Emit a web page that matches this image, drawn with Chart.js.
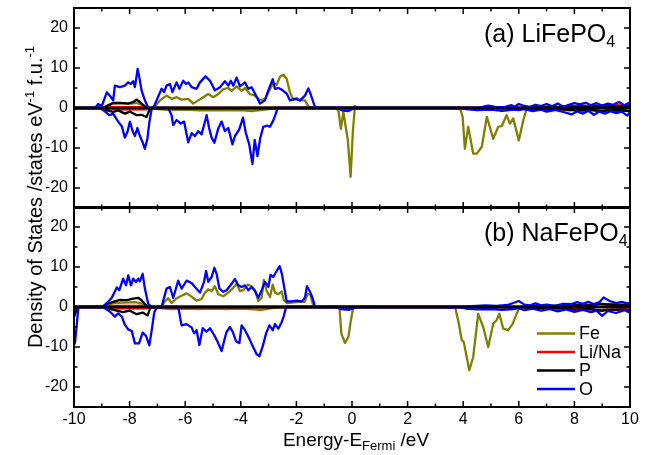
<!DOCTYPE html>
<html><head><meta charset="utf-8">
<script src="https://cdn.jsdelivr.net/npm/chart.js@4"></script>
<style>
html,body{margin:0;padding:0;background:#fff;}
#wrap{position:relative;width:654px;height:455px;overflow:hidden;}
canvas{position:absolute;left:0;top:0;}
</style></head><body>
<div id="wrap">
<canvas id="c1" width="654" height="455" style="width:654px;height:455px"></canvas>
<canvas id="c2" width="654" height="455" style="width:654px;height:455px"></canvas>
</div>
<script>
// ---- tick labels / names ----
const xTicks = [-10,-8,-6,-4,-2,0,2,4,6,8,10];
const yTicks = [-20,-10,0,10,20];
const seriesNames = ['Fe','Li/Na','P','O'];
const seriesColors = ['#808000','#ff0000','#000000','#0000ff'];
const panelA = ['(a) LiFePO','4'];
const panelB = ['(b) NaFePO','4'];

// ---- (a) LiFePO4 : [energy, DOS] ----
const liOUp = [[-10,0],[-9.24,0],[-9.13,1],[-9.0,0.5],[-8.82,3.9],[-8.7,3],[-8.59,1.9],[-8.53,5.6],[-8.35,5.2],[-8.17,5.6],[-8.05,6.4],[-7.96,6],[-7.87,6.7],[-7.81,5.2],[-7.71,9.8],[-7.63,6.9],[-7.57,4.4],[-7.45,1.9],[-7.33,0.1],[-7.15,0],[-7.03,1.9],[-6.85,4.8],[-6.76,4],[-6.67,5.6],[-6.55,6],[-6.46,4],[-6.31,6.4],[-6.21,4.8],[-6.07,6.8],[-5.97,6],[-5.89,6.4],[-5.77,5.2],[-5.59,4.8],[-5.47,6.4],[-5.27,7.9],[-5.11,6.8],[-4.93,4.4],[-4.75,5.2],[-4.57,6.7],[-4.45,5.6],[-4.36,6.8],[-4.27,5.6],[-4.15,7.6],[-4.03,5.4],[-3.85,6.4],[-3.73,4.8],[-3.61,5.2],[-3.49,3.6],[-3.31,1.1],[-3.13,1.9],[-3.01,4.4],[-2.85,7.2],[-2.77,4.8],[-2.65,5],[-2.53,4.6],[-2.35,3.6],[-2.23,1.9],[-2.05,2.3],[-1.87,1.9],[-1.69,3.1],[-1.57,4.9],[-1.49,3.5],[-1.33,0.2],[-1.2,0],[4.5,0],[4.9,0.6],[5.2,0.2],[5.5,0.3],[5.74,0.7],[5.85,0.3],[6.0,1.0],[6.2,0.5],[6.4,0.3],[6.6,0.8],[6.8,0.5],[7.0,1.0],[7.2,0.4],[7.4,1.1],[7.6,0.3],[7.8,0.8],[8.0,1.2],[8.2,0.9],[8.4,1.3],[8.6,0.7],[8.8,1.2],[9.0,0.6],[9.2,1.1],[9.4,0.8],[9.6,1.5],[9.8,0.7],[10,1.4]];
const liODn = [[-10,-0.6],[-9.95,0],[-9.06,0],[-8.88,-0.9],[-8.73,-1.8],[-8.59,-1.4],[-8.41,-3.4],[-8.28,-4.6],[-8.17,-7.4],[-8.07,-5.8],[-7.99,-3.4],[-7.89,-5.8],[-7.81,-7],[-7.72,-5],[-7.63,-7],[-7.53,-8.6],[-7.45,-10.2],[-7.36,-7.7],[-7.29,-3.6],[-7.2,0],[-6.61,0],[-6.49,-1.8],[-6.43,-4.3],[-6.31,-3],[-6.16,-3.9],[-6.04,-3.4],[-5.89,-8.6],[-5.77,-6.3],[-5.65,-7],[-5.53,-5.8],[-5.41,-6.6],[-5.23,-1.8],[-5.14,-5],[-5.05,-7.4],[-4.95,-8.7],[-4.81,-5.1],[-4.69,-3.4],[-4.57,-5.8],[-4.45,-5],[-4.3,-9.1],[-4.21,-7],[-4.06,-5.4],[-3.92,-2.4],[-3.82,-6.2],[-3.7,-9],[-3.58,-14],[-3.5,-8],[-3.4,-12],[-3.3,-7.5],[-3.19,-4.7],[-3.05,-4.4],[-2.95,-4.7],[-2.83,-3.1],[-2.67,0],[-0.5,0],[-0.35,-0.6],[-0.15,-0.8],[0,-0.3],[0.1,0],[3.9,0],[4.1,-0.3],[4.5,-0.5],[5.0,-0.4],[5.4,-0.7],[5.8,-0.4],[6.0,-0.5],[6.2,-0.3],[6.5,-0.8],[6.8,-0.4],[7.0,-0.9],[7.3,-0.5],[7.6,-1.0],[7.9,-1.6],[8.1,-0.8],[8.3,-1.4],[8.5,-0.7],[8.7,-1.7],[8.9,-0.9],[9.1,-1.4],[9.3,-0.8],[9.5,-1.3],[9.7,-0.9],[9.9,-1.9],[10,-1.0]];
const liFeUp = [[-10,0],[-8.9,0],[-8.6,1.1],[-8.2,1.2],[-7.9,1.1],[-7.75,1.3],[-7.5,0.5],[-7.35,0],[-7.15,0],[-6.91,1.9],[-6.67,3.1],[-6.49,2.3],[-6.31,2.7],[-6.13,2.1],[-5.89,2.3],[-5.71,1.1],[-5.53,1.9],[-5.35,2.7],[-5.17,3.5],[-4.99,2.7],[-4.81,3.5],[-4.63,4.7],[-4.45,5],[-4.33,4.3],[-4.15,5.4],[-3.97,4.3],[-3.85,5],[-3.67,3.5],[-3.49,3.1],[-3.31,1.9],[-3.13,2.3],[-2.95,4.7],[-2.83,6.2],[-2.71,5.8],[-2.59,7.8],[-2.47,8.3],[-2.35,7.3],[-2.23,3.9],[-2.11,2],[-1.99,2.5],[-1.87,1.9],[-1.69,1.9],[-1.57,0.4],[-1.45,0],[0.0,0],[0.1,0.5],[0.2,0],[10,0]];
const liFeDn = [[-10,0],[-8.8,0],[-8.5,-0.3],[-7.5,-0.3],[-7.3,0],[-7.0,-0.3],[-6.5,-0.5],[-6.0,-0.4],[-5.5,-0.6],[-5.0,-0.5],[-4.5,-0.6],[-4.0,-0.5],[-3.6,-0.8],[-3.3,-0.5],[-3.0,-0.3],[-2.6,0],[-0.61,0],[-0.49,-0.6],[-0.4,-5.2],[-0.31,-1],[-0.15,-8],[-0.05,-17.2],[0.03,-6],[0.1,0],[3.88,0],[3.98,-2.2],[4.06,-10.2],[4.18,-4.7],[4.36,-11.4],[4.49,-11.4],[4.67,-9.7],[4.85,-2.2],[5.08,-7.7],[5.26,-4.7],[5.39,-4.5],[5.56,-1.8],[5.68,-3.9],[5.8,-2.6],[6.0,-8.1],[6.16,-3.1],[6.28,-0.2],[6.4,0],[10,0]];
const liLiUp = [[-10,0],[-8.9,0],[-8.7,0.2],[-7.4,0.2],[-7.2,0],[6.5,0],[7,0.2],[7.5,0.3],[7.8,0.5],[8.0,0.3],[8.3,0.6],[8.6,0.4],[8.9,0.7],[9.2,0.5],[9.5,0.8],[9.8,0.5],[10,0.7]];
const liLiDn = [[-10,0],[-8.9,0],[-8.7,-0.35],[-7.4,-0.35],[-7.2,0],[6.5,0],[7,-0.2],[7.5,-0.4],[7.8,-0.6],[8.0,-0.4],[8.3,-0.8],[8.6,-0.5],[8.9,-0.9],[9.2,-0.6],[9.5,-0.9],[9.8,-0.5],[10,-0.8]];
const liPUp = [[-10,0],[-9.0,0],[-8.85,0.4],[-8.6,1.25],[-8.35,1.3],[-8.05,1.1],[-7.87,1.5],[-7.75,2.1],[-7.63,1.5],[-7.45,0.4],[-7.33,0],[6,0],[6.5,0.2],[7,0.3],[7.5,0.2],[8,0.4],[8.5,0.3],[9,0.5],[9.5,0.3],[10,0.5]];
const liPDn = [[-10,0],[-8.95,0],[-8.82,-0.6],[-8.59,-1],[-8.41,-0.6],[-8.17,-1.4],[-7.99,-0.9],[-7.75,-1.8],[-7.57,-1.7],[-7.39,-2.25],[-7.27,-0.2],[-7.2,0],[6,0],[6.5,-0.2],[7,-0.4],[7.5,-0.3],[8,-0.6],[8.5,-0.4],[9,-0.7],[9.5,-0.5],[10,-0.8]];

// ---- (b) NaFePO4 : [energy, DOS] ----
const naOUp = [[-10,0],[-9.78,0],[-8.95,0],[-8.82,1],[-8.64,2.3],[-8.46,4.9],[-8.37,4.2],[-8.23,7.1],[-8.13,5.4],[-8.05,7.9],[-7.95,5.4],[-7.87,7.1],[-7.77,6.2],[-7.69,7.1],[-7.63,6.4],[-7.53,8.3],[-7.45,4.6],[-7.33,0.8],[-7.2,0],[-6.85,0],[-6.67,4.6],[-6.55,5],[-6.43,2.3],[-6.25,6.6],[-6.13,4.6],[-5.95,6.6],[-5.77,6],[-5.65,5],[-5.47,3.6],[-5.32,6.3],[-5.25,9],[-5.17,6.3],[-5.05,7.5],[-4.95,9.8],[-4.87,8.3],[-4.77,4.6],[-4.63,3.8],[-4.51,4.2],[-4.33,5.8],[-4.21,7],[-4.09,5.4],[-3.97,5],[-3.85,5.4],[-3.73,4.2],[-3.61,5],[-3.49,4],[-3.37,2.3],[-3.25,4.2],[-3.13,6.3],[-3.01,5],[-2.93,8],[-2.83,7.5],[-2.73,8.8],[-2.6,10.2],[-2.52,8.2],[-2.45,5.4],[-2.35,1.4],[-2.17,1.4],[-1.99,1.6],[-1.81,1.4],[-1.69,2.4],[-1.62,5.2],[-1.51,3.8],[-1.41,2.1],[-1.33,0],[3.9,0],[4.3,0.2],[4.8,0.4],[5.2,0.3],[5.6,0.5],[6.0,1.5],[6.2,0.6],[6.4,0.4],[6.6,0.9],[6.8,0.4],[7.0,0.6],[7.3,0.3],[7.6,0.8],[7.9,0.7],[8.1,1.2],[8.3,0.8],[8.5,1.3],[8.7,0.7],[8.9,1.2],[9.05,2.4],[9.3,1.4],[9.5,1.0],[9.7,1.3],[9.9,0.9],[10,1.0]];
const naODn = [[-10,-9.5],[-9.96,-8.75],[-9.84,0],[-8.95,0],[-8.7,-1.2],[-8.53,-2.4],[-8.41,-1.6],[-8.28,-2.4],[-8.17,-4.4],[-8.05,-5.6],[-7.92,-6],[-7.81,-9.1],[-7.66,-9.1],[-7.53,-6.4],[-7.41,-7.2],[-7.29,-9.6],[-7.2,-5.6],[-7.11,-1.2],[-7.0,0],[-6.25,0],[-6.13,-4.6],[-5.95,-4.3],[-5.77,-5.1],[-5.68,-6.6],[-5.59,-5.8],[-5.49,-9.5],[-5.37,-5.3],[-5.23,-6.2],[-5.11,-5.3],[-4.96,-7],[-4.84,-8.6],[-4.69,-11],[-4.59,-8.2],[-4.51,-6.2],[-4.39,-5],[-4.29,-6.2],[-4.17,-8.6],[-4.05,-9],[-3.97,-4.6],[-3.85,-5.8],[-3.73,-7.4],[-3.57,-9.8],[-3.43,-11.8],[-3.33,-12.3],[-3.21,-9.8],[-3.09,-6.6],[-2.97,-4.6],[-2.85,-5.8],[-2.77,-4.3],[-2.65,-5.4],[-2.53,-3.8],[-2.45,-2.2],[-2.37,0],[-0.5,0],[-0.4,-0.5],[-0.1,-0.7],[0.05,-0.3],[0.1,0],[3.9,0],[4.1,-0.4],[4.5,-0.6],[5.0,-0.5],[5.4,-0.7],[5.8,-0.5],[6.0,-0.3],[6.2,-0.8],[6.5,-0.4],[6.8,-0.9],[7.1,-0.5],[7.4,-1.1],[7.7,-0.6],[8.0,-1.2],[8.3,-0.7],[8.6,-1.3],[8.8,-0.9],[9.0,-2.2],[9.2,-1.0],[9.5,-1.5],[9.8,-0.8],[10,-1.4]];
const naFeUp = [[-10,0],[-8.9,0],[-8.6,1],[-8.2,1.1],[-7.8,1.2],[-7.5,0.8],[-7.35,0],[-6.85,0],[-6.73,1.4],[-6.61,2.2],[-6.49,1],[-6.31,2.2],[-6.13,2.8],[-5.95,3.4],[-5.77,2.6],[-5.59,1.6],[-5.41,2],[-5.29,3.6],[-5.17,4.4],[-5.05,4],[-4.93,5.2],[-4.81,3.2],[-4.63,2.7],[-4.45,3.6],[-4.27,4.8],[-4.15,5.8],[-4.03,4],[-3.91,4.2],[-3.75,5.6],[-3.61,5.2],[-3.49,4.2],[-3.37,1.5],[-3.25,2.3],[-3.17,6.8],[-3.07,4],[-2.95,2.5],[-2.85,5.6],[-2.77,3.6],[-2.65,3.2],[-2.53,3.9],[-2.45,1.7],[-2.35,1],[-2.0,1.2],[-1.7,1.3],[-1.6,3.3],[-1.5,3.0],[-1.38,0],[10,0]];
const naFeDn = [[-10,-2],[-9.95,0],[-8.8,0],[-8.5,-0.3],[-7.5,-0.3],[-7.3,0],[-6.9,-0.3],[-6.5,-0.5],[-6.0,-0.4],[-5.5,-0.5],[-5.0,-0.4],[-4.5,-0.5],[-4.0,-0.4],[-3.5,-0.6],[-3.3,-0.8],[-3.0,-0.4],[-2.6,0],[-0.55,0],[-0.45,-0.4],[-0.38,-6.7],[-0.25,-9],[-0.13,-7.5],[-0.04,-3.3],[0.05,0],[3.71,0],[3.83,-3.75],[3.95,-8.3],[4.02,-8.75],[4.22,-15.8],[4.36,-12.5],[4.54,-1.7],[4.72,-5],[4.9,-10],[5.08,-4.2],[5.2,-3.3],[5.3,-1.7],[5.44,-5.4],[5.62,-5.8],[5.78,-4.2],[5.92,-1.7],[6.04,0],[10,0]];
const naLiUp = [[-10,0.3],[-9.8,0],[-8.9,0],[-8.7,0.25],[-7.4,0.25],[-7.2,0],[6.5,0],[7,0.2],[7.5,0.3],[7.8,0.5],[8.0,0.3],[8.3,0.6],[8.6,0.5],[8.9,0.8],[9.2,0.5],[9.5,0.7],[9.8,0.4],[10,0.6]];
const naLiDn = [[-10,-0.3],[-9.8,0],[-8.9,0],[-8.7,-0.35],[-7.4,-0.35],[-7.2,0],[6.5,0],[7,-0.2],[7.5,-0.4],[7.8,-0.5],[8.0,-0.4],[8.3,-0.7],[8.6,-0.5],[8.9,-1.0],[9.2,-0.6],[9.5,-0.8],[9.8,-0.5],[10,-0.7]];
const naPUp = [[-10,0],[-9.0,0],[-8.82,0.8],[-8.59,1.3],[-8.35,1.8],[-8.1,1.7],[-7.87,2.1],[-7.69,2.3],[-7.57,1.7],[-7.39,0.3],[-7.3,0],[6,0],[6.5,0.3],[7,0.2],[7.5,0.4],[8,0.5],[8.5,0.4],[9,0.8],[9.5,0.5],[10,0.6]];
const naPDn = [[-10,-2.5],[-9.9,-0.5],[-9.8,0],[-8.95,0],[-8.7,-0.5],[-8.47,-0.9],[-8.23,-1.3],[-8.0,-0.9],[-7.75,-1.8],[-7.53,-1.4],[-7.35,-2.1],[-7.25,0],[6,0],[6.5,-0.3],[7,-0.4],[7.5,-0.3],[8,-0.7],[8.5,-0.5],[9,-0.9],[9.5,-0.6],[10,-0.8]];

const FONT = '"Liberation Sans", Arial, Helvetica, sans-serif';

function pts(a){ return a.map(([x,y]) => ({x, y})); }
function ds(arr, colorIdx){
  return {data: pts(arr), borderColor: seriesColors[colorIdx], backgroundColor: seriesColors[colorIdx],
    borderWidth: 2.3, pointRadius: 0, fill: false, tension: 0, borderJoinStyle: 'round'};
}

function richDraw(ctx, parts, x, y, measureOnly){
  let cx = x;
  for (const p of parts){
    ctx.font = p.size + 'px ' + FONT;
    if (!measureOnly) ctx.fillText(p.t, cx, y + (p.dy || 0));
    cx += ctx.measureText(p.t).width;
  }
  return cx - x;
}

function line(ctx, x1, y1, x2, y2){ ctx.beginPath(); ctx.moveTo(x1,y1); ctx.lineTo(x2,y2); ctx.stroke(); }

const framePlugin = {
  id: 'frame',
  afterDatasetsDraw(chart, args, opts){
    const {ctx, chartArea: a, scales: {x, y}} = chart;
    ctx.save();
    ctx.strokeStyle = '#000';
    // zero line
    const y0 = y.getPixelForValue(0);
    ctx.lineWidth = 2.5;
    line(ctx, a.left, y0, a.right, y0);
    // ticks inward
    ctx.lineWidth = 1.5;
    for (let i = 0; i < xTicks.length; i++){
      const px = x.getPixelForValue(xTicks[i]);
      line(ctx, px, a.bottom, px, a.bottom - 6);
      line(ctx, px, a.top, px, a.top + 6);
      if (i < xTicks.length - 1){
        const pm = x.getPixelForValue((xTicks[i] + xTicks[i+1]) / 2);
        line(ctx, pm, a.bottom, pm, a.bottom - 3.5);
        line(ctx, pm, a.top, pm, a.top + 3.5);
      }
    }
    for (let i = 0; i < yTicks.length; i++){
      const py = y.getPixelForValue(yTicks[i]);
      line(ctx, a.left, py, a.left + 6, py);
      line(ctx, a.right, py, a.right - 6, py);
      if (i < yTicks.length - 1){
        const pm = y.getPixelForValue((yTicks[i] + yTicks[i+1]) / 2);
        line(ctx, a.left, pm, a.left + 3.5, pm);
        line(ctx, a.right, pm, a.right - 3.5, pm);
      }
    }
    ctx.lineWidth = 2;
    ctx.strokeRect(a.left, a.top, a.right - a.left, a.bottom - a.top);
    // panel label
    ctx.fillStyle = '#000';
    ctx.textBaseline = 'alphabetic';
    ctx.textAlign = 'left';
    richDraw(ctx, [{t: opts.label[0], size: 25}, {t: opts.label[1], size: 16, dy: 5}], a.left + 410, a.top + 34);
    ctx.restore();
  }
};

const extrasPlugin = {
  id: 'extras',
  afterDraw(chart){
    const {ctx, chartArea: a, scales: {x}} = chart;
    ctx.save();
    ctx.fillStyle = '#000';
    ctx.textAlign = 'left';
    // legend
    const ly = [333.5, 352, 370.5, 389];
    for (let i = 0; i < seriesNames.length; i++){
      ctx.strokeStyle = seriesColors[i];
      ctx.lineWidth = 2.5;
      line(ctx, 537, ly[i], 575, ly[i]);
      ctx.font = '18px ' + FONT;
      ctx.textBaseline = 'middle';
      ctx.fillText(seriesNames[i], 579, ly[i] + 1);
    }
    // x title
    ctx.textBaseline = 'alphabetic';
    const xParts = [{t: 'Energy-E', size: 19}, {t: 'Fermi', size: 13, dy: 4}, {t: ' /eV', size: 19}];
    const w = richDraw(ctx, xParts, 0, 0, true);
    const cx = x.getPixelForValue(0) + 4;
    richDraw(ctx, xParts, cx - w / 2, 446);
    // y title (rotated)
    const yParts = [{t: 'Density of States /states eV', size: 20}, {t: '-1', size: 13, dy: -8}, {t: ' f.u.', size: 20}, {t: '-1', size: 13, dy: -8}];
    const wy = richDraw(ctx, yParts, 0, 0, true);
    ctx.translate(42, 197);
    ctx.rotate(-Math.PI / 2);
    richDraw(ctx, yParts, -wy / 2, 0);
    ctx.restore();
  }
};

function makeOptions(isBottom, label){
  return {
    responsive: false, animation: false, events: [],
    layout: {padding: {left: 0, right: 24, top: isBottom ? 207 : 8, bottom: isBottom ? 0 : 247}},
    plugins: {legend: {display: false}, tooltip: {enabled: false}, frame: {label: label}},
    scales: {
      x: {type: 'linear', min: -10, max: 10, display: isBottom,
        grid: {display: false, drawTicks: false}, border: {display: false},
        afterBuildTicks: s => { s.ticks = xTicks.map(v => ({value: v})); },
        afterFit: s => { if (isBottom) { s.height = 48; } s.paddingLeft = 0; s.paddingRight = 0; },
        ticks: {color: '#000', font: {family: FONT, size: 16}, padding: 3, maxRotation: 0, autoSkip: false, callback: v => String(v)}},
      y: {type: 'linear', min: -25, max: 25,
        grid: {display: false, drawTicks: false}, border: {display: false},
        afterBuildTicks: s => { s.ticks = yTicks.map(v => ({value: v})); },
        afterFit: s => { s.width = 74; s.paddingTop = 0; s.paddingBottom = 0; },
        ticks: {color: '#000', font: {family: FONT, size: 16}, padding: 6, autoSkip: false, callback: v => String(v)}}
    }
  };
}

// dataset order: first drawn on top -> O, P, Li/Na, Fe
new Chart(document.getElementById('c1'), {
  type: 'line',
  data: {datasets: [ds(liOUp,3), ds(liODn,3), ds(liPUp,2), ds(liPDn,2), ds(liLiUp,1), ds(liLiDn,1), ds(liFeUp,0), ds(liFeDn,0)]},
  options: makeOptions(false, panelA),
  plugins: [framePlugin]
});
new Chart(document.getElementById('c2'), {
  type: 'line',
  data: {datasets: [ds(naOUp,3), ds(naODn,3), ds(naPUp,2), ds(naPDn,2), ds(naLiUp,1), ds(naLiDn,1), ds(naFeUp,0), ds(naFeDn,0)]},
  options: makeOptions(true, panelB),
  plugins: [framePlugin, extrasPlugin]
});
</script>
</body></html>
